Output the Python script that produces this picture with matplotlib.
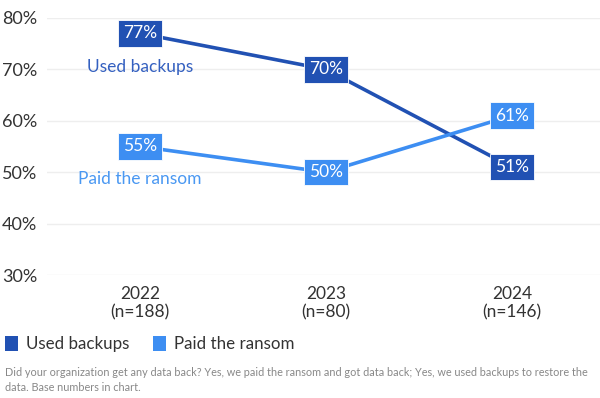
import matplotlib
matplotlib.use("Agg")
import matplotlib.pyplot as plt
from matplotlib.patches import Rectangle

plt.rcParams['font.family'] = ['Lato', 'DejaVu Sans']

years = ["2022\n(n=188)", "2023\n(n=80)", "2024\n(n=146)"]
used_backups = [77, 70, 51]
paid_ransom = [55, 50, 61]
series_names = ["Used backups", "Paid the ransom"]
yticks = [30, 40, 50, 60, 70, 80]

dark = "#2151b3"
light = "#3d8ef2"
dark_txt = "#3460c0"
light_txt = "#4a98f2"

fig = plt.figure(figsize=(6.0, 3.98), dpi=100)
ax = fig.add_axes([0.078, 0.309, 0.93, 0.646])
x = list(range(len(years)))
ax.plot(x, used_backups, color=dark, lw=2.6, solid_capstyle='butt', zorder=3)
ax.plot(x, paid_ransom, color=light, lw=2.6, solid_capstyle='butt', zorder=3)

for xs, vs, c in [(x, used_backups, dark), (x, paid_ransom, light)]:
    for xi, v in zip(xs, vs):
        ax.text(xi, v, f"{v}%", ha='center', va='center', color='white', fontsize=12.5,
                zorder=5, bbox=dict(boxstyle='square,pad=0.3', fc=c, ec='white', lw=0.6))

ax.text(0, 70.5, series_names[0], color=dark_txt, fontsize=12.5, ha='center', va='center')
ax.text(0, 48.6, series_names[1], color=light_txt, fontsize=12.5, ha='center', va='center')

ax.set_xlim(-0.5, 2.5)
ax.set_ylim(30, 80)
ax.set_yticks(yticks)
ax.set_yticklabels([f"{t}%" for t in yticks], color="#333333", fontsize=13)
ax.set_xticks(x)
ax.set_xticklabels(years, color="#333333", fontsize=12.5, linespacing=1.2)
ax.tick_params(length=0)
ax.tick_params(axis='x', pad=8)
ax.tick_params(axis='y', pad=7)
ax.grid(axis='y', color="#eeeeee", lw=1)
ax.set_axisbelow(True)
for s in ax.spines.values():
    s.set_visible(False)

# legend
fig.patches.append(Rectangle((5/600, 1-351/398), 13/600, 15/398, transform=fig.transFigure, fc=dark, ec='none'))
fig.text(26/600, 1-344/398, series_names[0], fontsize=12.2, color="#333333", va='center')
fig.patches.append(Rectangle((153/600, 1-351/398), 13/600, 15/398, transform=fig.transFigure, fc=light, ec='none'))
fig.text(174/600, 1-344/398, series_names[1], fontsize=12.2, color="#333333", va='center')

fig.text(5/600, 1-380/398,
         "Did your organization get any data back? Yes, we paid the ransom and got data back; Yes, we used backups to restore the\ndata. Base numbers in chart.",
         fontsize=7.8, color="#888888", va='center', linespacing=1.45)

fig.savefig("out.png", dpi=100)
